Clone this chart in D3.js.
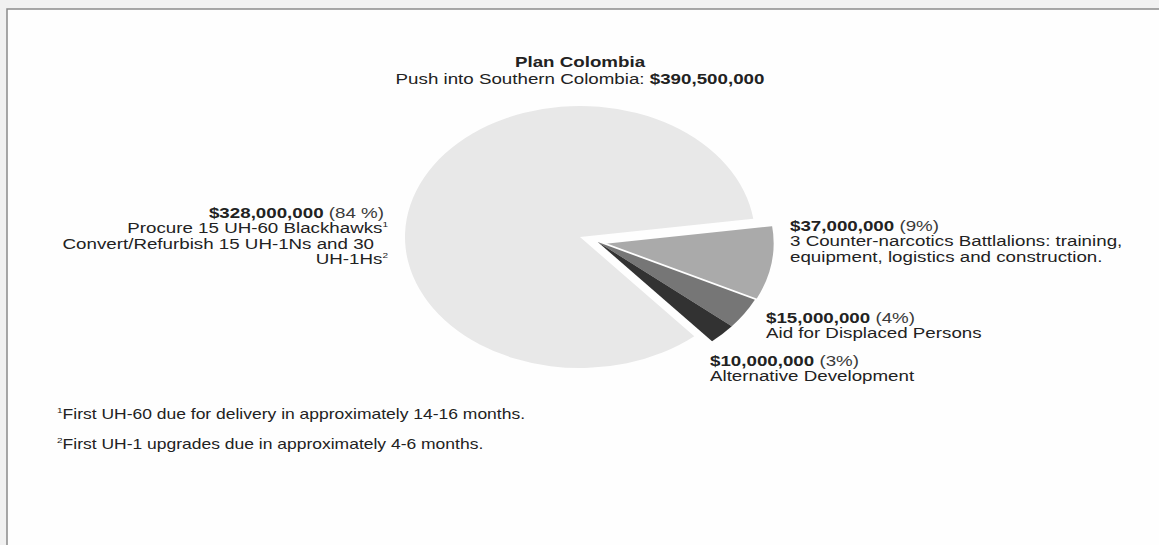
<!DOCTYPE html>
<html>
<head>
<meta charset="utf-8">
<script src="https://cdn.jsdelivr.net/npm/d3@7"></script>
<style>
  body { margin: 0; background: #f1f1f1; }
  text { font-family: "Liberation Sans", Arial, sans-serif; fill: #222; }
</style>
</head>
<body>
<div id="chart"></div>
<script>
// plan colombia - push into southern colombia
var categories = ['Battalions', 'Displaced', 'Alternative', 'Helicopters'];
var amounts = [37000000, 15000000, 10000000, 328000000];
var percents = ['(9%)', '(4%)', '(3%)', '(84 %)'];
var colors = ['#aaaaaa', '#767676', '#323232', '#e8e8e8'];
var total = 390500000;

var width = 1159, height = 545;
var fmt = d3.format('$,');
var stretch = 1.25; // o original esta esticado na horizontal - source is stretched sideways

var svg = d3.select('#chart')
.append('svg')
.attr('width', width)
.attr('height', height);

// moldura - frame
svg.append('rect')
.attr('x', 0).attr('y', 0)
.attr('width', width).attr('height', height)
.attr('fill', '#f1f1f1');

svg.append('rect')
.attr('x', 7).attr('y', 9)
.attr('width', width).attr('height', height)
.attr('fill', '#fefefe')
.attr('stroke', '#8a8a8a')
.attr('stroke-width', 1.5);

function txt(x, y, anchor, size) {
    return svg.append('text')
    .attr('transform', 'translate(' + x + ',' + y + ') scale(' + stretch + ',1)')
    .attr('text-anchor', anchor)
    .style('font-size', size + 'px');
}

// titulo
txt(580, 67, 'middle', 15)
.style('font-weight', 700)
.text('Plan Colombia');

var sub = txt(580, 84, 'middle', 15);
sub.append('tspan').text('Push into Southern Colombia: ');
sub.append('tspan').style('font-weight', 700).text(fmt(total));

// pizza elipse - elliptical pie
var cx = 580, cy = 237, rx = 175, ry = 131;
var start = 82 * Math.PI / 180;

var pie = d3.pie()
.sort(null)
.value(function(d){ return d; })
.startAngle(start)
.endAngle(start + 2 * Math.PI);

var arcs = pie(amounts);
var arc = d3.arc().innerRadius(0).outerRadius(rx);

var pieG = svg.append('g')
.attr('transform', 'translate(' + cx + ',' + cy + ') scale(1,' + (ry / rx) + ')');

// fatias pequenas deslocadas - small slices pulled out
var groupMid = (arcs[0].startAngle + arcs[2].endAngle) / 2;

pieG.selectAll('path.fatia')
.data(arcs)
.enter()
.append('path')
.attr('class', 'fatia')
.attr('d', arc)
.attr('fill', function(d, i){ return colors[i]; })
.attr('stroke', function(d, i){ return i === 0 ? '#fefefe' : 'none'; })
.attr('stroke-width', 4)
.attr('transform', function(d, i){
    if (i === 3) return null;
    var off = i === 0 ? 22 : 19;
    return 'translate(' + (off * Math.sin(groupMid)) + ',' + (-off * Math.cos(groupMid)) + ')';
});

// rotulos - labels
function label(x, y, anchor, i, lines) {
    var t = txt(x, y, anchor, 15);
    var first = t.append('tspan').attr('x', 0).attr('y', 0);
    first.append('tspan').style('font-weight', 700).text(fmt(amounts[i]));
    first.append('tspan').style('fill', '#3a3a3a').text(' ' + percents[i]);
    lines.forEach(function(l, k){
        var ts = t.append('tspan')
        .attr('x', (l.dx || 0) / stretch)
        .attr('y', (k + 1) * 15.5)
        .text(l.t);
        if (l.sup) ts.append('tspan').style('font-size', '8px').attr('dy', -6).text(l.sup);
    });
}

label(384, 218, 'end', 3, [
    {t: 'Procure 15 UH-60 Blackhawks', sup: '1', dx: 4},
    {t: 'Convert/Refurbish 15 UH-1Ns and 30', dx: -10},
    {t: 'UH-1Hs', sup: '2', dx: 4}
]);
label(790, 231, 'start', 0, [
    {t: '3 Counter-narcotics Battlalions: training,'},
    {t: 'equipment, logistics and construction.'}
]);
label(766, 323, 'start', 1, [
    {t: 'Aid for Displaced Persons'}
]);
label(710, 366, 'start', 2, [
    {t: 'Alternative Development'}
]);

// notas de rodape - footnotes
var notes = [
    {sup: '1', t: 'First UH-60 due for delivery in approximately 14-16 months.'},
    {sup: '2', t: 'First UH-1 upgrades due in approximately 4-6 months.'}
];

notes.forEach(function(d, i){
    var t = txt(57, 419 + i * 30, 'start', 14);
    t.append('tspan').style('font-size', '8px').attr('dy', -6).text(d.sup);
    t.append('tspan').attr('dy', 6).text(d.t);
});
</script>
</body>
</html>
